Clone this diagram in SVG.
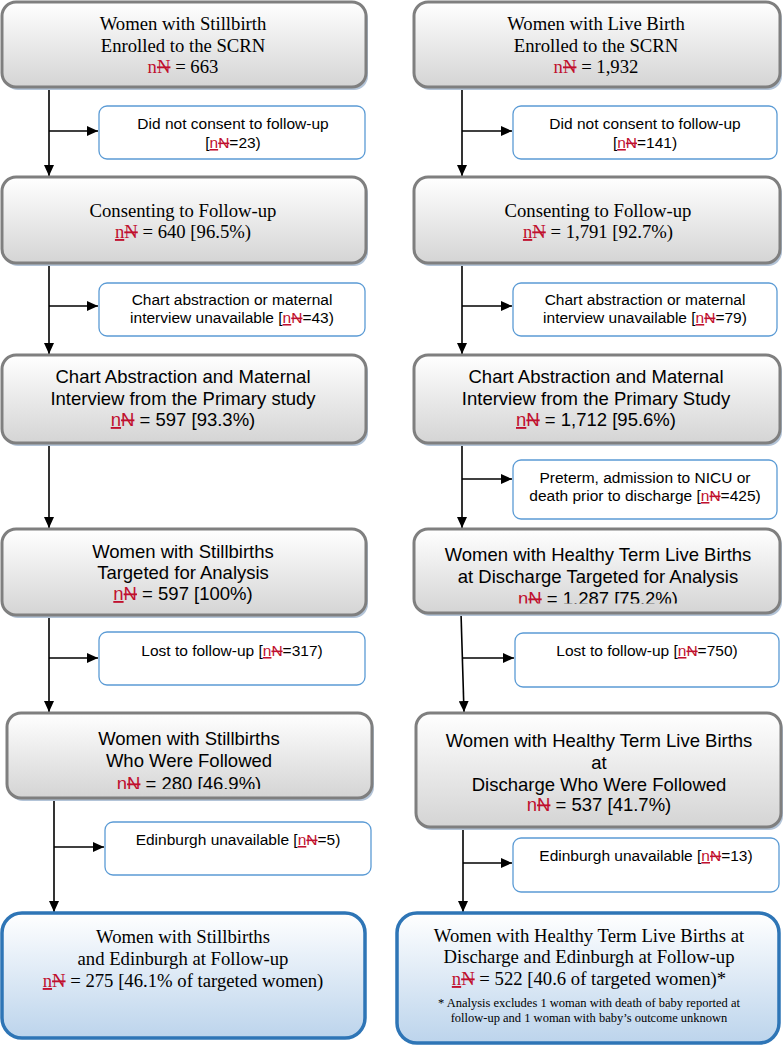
<svg xmlns="http://www.w3.org/2000/svg" width="784" height="1050" viewBox="0 0 784 1050">
<style>
.gb{fill:url(#gGray);stroke:#7f7f7f;stroke-width:3}
.sh{fill:#b3c4d8}
.sb{fill:#fff;stroke:#5b9bd5;stroke-width:1.3}
.bb{fill:url(#gBlue);stroke:#2e75b6;stroke-width:3.5}
.se{font-family:"Liberation Serif","Times New Roman",serif;font-size:18.7px;fill:#000;text-anchor:middle}
.sa{font-family:"Liberation Sans",Arial,sans-serif;font-size:18.5px;fill:#000;text-anchor:middle}
.ss{font-family:"Liberation Sans",Arial,sans-serif;font-size:15.5px;fill:#000;text-anchor:middle}
.fn{font-family:"Liberation Serif","Times New Roman",serif;font-size:12.5px;fill:#000;text-anchor:middle}
.n{fill:#c0102e}
.nu{fill:#c0102e;text-decoration:underline}
.N{fill:#c0102e;text-decoration:line-through}
.c{stroke:#000;stroke-width:1.6;fill:none}
.a{marker-end:url(#ah)}
</style>
<defs>
<linearGradient id="gGray" x1="0" y1="0" x2="0" y2="1"><stop offset="0" stop-color="#ffffff"/><stop offset="1" stop-color="#d4d4d4"/></linearGradient>
<linearGradient id="gBlue" x1="0" y1="0" x2="0" y2="1"><stop offset="0" stop-color="#ffffff"/><stop offset="1" stop-color="#bcd4ec"/></linearGradient>
<marker id="ah" markerUnits="userSpaceOnUse" markerWidth="12" markerHeight="10" refX="11" refY="5" orient="auto"><path d="M0,0 L11,5 L0,10 Z" fill="#000"/></marker>
<clipPath id="clipL5"><rect x="0" y="700" width="392" height="89"/></clipPath>
<clipPath id="clipR4"><rect x="392" y="520" width="392" height="83.5"/></clipPath>
</defs>

<g id="connectors">
<path class="c a" d="M49,87 V176"/>
<path class="c a" d="M49,131 H98"/>
<path class="c a" d="M49,263 V354"/>
<path class="c a" d="M49,306 H98"/>
<path class="c a" d="M49,443 V528"/>
<path class="c a" d="M49,615 V712"/>
<path class="c a" d="M49,658 H98"/>
<path class="c a" d="M54,798 V912"/>
<path class="c a" d="M54,847 H104"/>
<path class="c a" d="M462,87 V176"/>
<path class="c a" d="M462,131 H512"/>
<path class="c a" d="M462,263 V354"/>
<path class="c a" d="M462,306 H512"/>
<path class="c a" d="M462,443 V528"/>
<path class="c a" d="M462,479 H512"/>
<path class="c a" d="M461,613 L464,712"/>
<path class="c a" d="M463,658 H514"/>
<path class="c a" d="M463,827 V912"/>
<path class="c a" d="M463,863 H512"/>
</g>

<g id="L1">
<rect class="sh" x="4" y="5" width="364" height="85" rx="14"/>
<rect class="gb" x="2" y="2" width="364" height="85" rx="14"/>
<text class="se" x="183" y="30">Women with Stillbirth</text>
<text class="se" x="183" y="52">Enrolled to the SCRN</text>
<text class="se" x="183" y="73"><tspan class="n">n</tspan><tspan class="N">N</tspan> = 663</text>
</g>
<g id="S1">
<rect class="sb" x="99" y="106" width="266" height="53" rx="8"/>
<text class="ss" x="233" y="129">Did not consent to follow-up</text>
<text class="ss" x="233" y="148">[<tspan class="nu">n</tspan><tspan class="N">N</tspan>=23)</text>
</g>
<g id="L2">
<rect class="sh" x="4" y="180" width="364" height="86" rx="14"/>
<rect class="gb" x="2" y="177" width="364" height="86" rx="14"/>
<text class="se" x="183" y="217">Consenting to Follow-up</text>
<text class="se" x="183" y="238"><tspan class="nu">n</tspan><tspan class="N">N</tspan> = 640 [96.5%)</text>
</g>
<g id="S2">
<rect class="sb" x="99" y="283" width="266" height="53" rx="8"/>
<text class="ss" x="232" y="305">Chart abstraction or maternal</text>
<text class="ss" x="232" y="323">interview unavailable [<tspan class="nu">n</tspan><tspan class="N">N</tspan>=43)</text>
</g>
<g id="L3">
<rect class="sh" x="4" y="358" width="364" height="88" rx="14"/>
<rect class="gb" x="2" y="355" width="364" height="88" rx="14"/>
<text class="sa" x="183" y="383">Chart Abstraction and Maternal</text>
<text class="sa" x="183" y="405">Interview from the Primary study</text>
<text class="sa" x="183" y="426"><tspan class="nu">n</tspan><tspan class="N">N</tspan> = 597 [93.3%)</text>
</g>
<g id="L4">
<rect class="sh" x="4" y="532" width="364" height="86" rx="14"/>
<rect class="gb" x="2" y="529" width="364" height="86" rx="14"/>
<text class="sa" x="183" y="558">Women with Stillbirths</text>
<text class="sa" x="183" y="579">Targeted for Analysis</text>
<text class="sa" x="183" y="600"><tspan class="nu">n</tspan><tspan class="N">N</tspan> = 597 [100%)</text>
</g>
<g id="S4">
<rect class="sb" x="99" y="632" width="266" height="53" rx="8"/>
<text class="ss" x="232" y="656">Lost to follow-up [<tspan class="nu">n</tspan><tspan class="N">N</tspan>=317)</text>
</g>
<g id="L5">
<rect class="sh" x="9" y="716" width="365" height="85" rx="14"/>
<rect class="gb" x="7" y="713" width="365" height="85" rx="14"/>
<text class="sa" x="189" y="745">Women with Stillbirths</text>
<text class="sa" x="189" y="767">Who Were Followed</text>
<text class="sa" x="189" y="790" clip-path="url(#clipL5)"><tspan class="n">n</tspan><tspan class="N">N</tspan> = 280 [46.9%)</text>
</g>
<g id="S5">
<rect class="sb" x="105" y="822" width="266" height="53" rx="8"/>
<text class="ss" x="238" y="845">Edinburgh unavailable [<tspan class="nu">n</tspan><tspan class="N">N</tspan>=5)</text>
</g>
<g id="L6">
<rect class="bb" x="2" y="913" width="363" height="125" rx="20"/>
<text class="se" x="183" y="943">Women with Stillbirths</text>
<text class="se" x="183" y="965">and Edinburgh at Follow-up</text>
<text class="se" x="183" y="987"><tspan class="nu">n</tspan><tspan class="N">N</tspan> = 275 [46.1% of targeted women)</text>
</g>

<g id="R1">
<rect class="sh" x="416" y="5" width="366" height="85" rx="14"/>
<rect class="gb" x="414" y="2" width="366" height="85" rx="14"/>
<text class="se" x="596" y="30">Women with Live Birth</text>
<text class="se" x="596" y="52">Enrolled to the SCRN</text>
<text class="se" x="596" y="73"><tspan class="n">n</tspan><tspan class="N">N</tspan> = 1,932</text>
</g>
<g id="T1">
<rect class="sb" x="513" y="106" width="264" height="53" rx="8"/>
<text class="ss" x="645" y="129">Did not consent to follow-up</text>
<text class="ss" x="645" y="148">[<tspan class="nu">n</tspan><tspan class="N">N</tspan>=141)</text>
</g>
<g id="R2">
<rect class="sh" x="416" y="180" width="366" height="86" rx="14"/>
<rect class="gb" x="414" y="177" width="366" height="86" rx="14"/>
<text class="se" x="598" y="217">Consenting to Follow-up</text>
<text class="se" x="598" y="238"><tspan class="nu">n</tspan><tspan class="N">N</tspan> = 1,791 [92.7%)</text>
</g>
<g id="T2">
<rect class="sb" x="513" y="283" width="264" height="53" rx="8"/>
<text class="ss" x="645" y="305">Chart abstraction or maternal</text>
<text class="ss" x="645" y="323">interview unavailable [<tspan class="nu">n</tspan><tspan class="N">N</tspan>=79)</text>
</g>
<g id="R3">
<rect class="sh" x="416" y="358" width="366" height="88" rx="14"/>
<rect class="gb" x="414" y="355" width="366" height="88" rx="14"/>
<text class="sa" x="596" y="383">Chart Abstraction and Maternal</text>
<text class="sa" x="596" y="405">Interview from the Primary Study</text>
<text class="sa" x="596" y="426"><tspan class="nu">n</tspan><tspan class="N">N</tspan> = 1,712 [95.6%)</text>
</g>
<g id="T3">
<rect class="sb" x="513" y="460" width="264" height="59" rx="8"/>
<text class="ss" x="645" y="483">Preterm, admission to NICU or</text>
<text class="ss" x="645" y="501">death prior to discharge [<tspan class="nu">n</tspan><tspan class="N">N</tspan>=425)</text>
</g>
<g id="R4">
<rect class="sh" x="416" y="532" width="366" height="84" rx="14"/>
<rect class="gb" x="414" y="529" width="366" height="84" rx="14"/>
<text class="sa" x="598" y="561">Women with Healthy Term Live Births</text>
<text class="sa" x="598" y="583">at Discharge Targeted for Analysis</text>
<text class="sa" x="598" y="605" clip-path="url(#clipR4)"><tspan class="n">n</tspan><tspan class="N">N</tspan> = 1.287 [75.2%)</text>
</g>
<g id="T4">
<rect class="sb" x="515" y="633" width="264" height="54" rx="8"/>
<text class="ss" x="647" y="656">Lost to follow-up [<tspan class="nu">n</tspan><tspan class="N">N</tspan>=750)</text>
</g>
<g id="R5">
<rect class="sh" x="418" y="716" width="365" height="114" rx="14"/>
<rect class="gb" x="416" y="713" width="365" height="114" rx="14"/>
<text class="sa" x="599" y="747">Women with Healthy Term Live Births</text>
<text class="sa" x="599" y="769">at</text>
<text class="sa" x="599" y="791">Discharge Who Were Followed</text>
<text class="sa" x="599" y="811"><tspan class="n">n</tspan><tspan class="N">N</tspan> = 537 [41.7%)</text>
</g>
<g id="T5">
<rect class="sb" x="513" y="838" width="266" height="54" rx="8"/>
<text class="ss" x="646" y="861">Edinburgh unavailable [<tspan class="nu">n</tspan><tspan class="N">N</tspan>=13)</text>
</g>
<g id="R6">
<rect class="bb" x="397" y="913" width="382" height="130" rx="20"/>
<text class="se" x="589" y="942">Women with Healthy Term Live Births at</text>
<text class="se" x="589" y="963">Discharge and Edinburgh at Follow-up</text>
<text class="se" x="589" y="985"><tspan class="nu">n</tspan><tspan class="N">N</tspan> = 522 [40.6 of targeted women)*</text>
<text class="fn" x="589" y="1007">* Analysis excludes 1 woman with death of baby reported at</text>
<text class="fn" x="589" y="1022">follow-up and 1 woman with baby’s outcome unknown</text>
</g>
</svg>
